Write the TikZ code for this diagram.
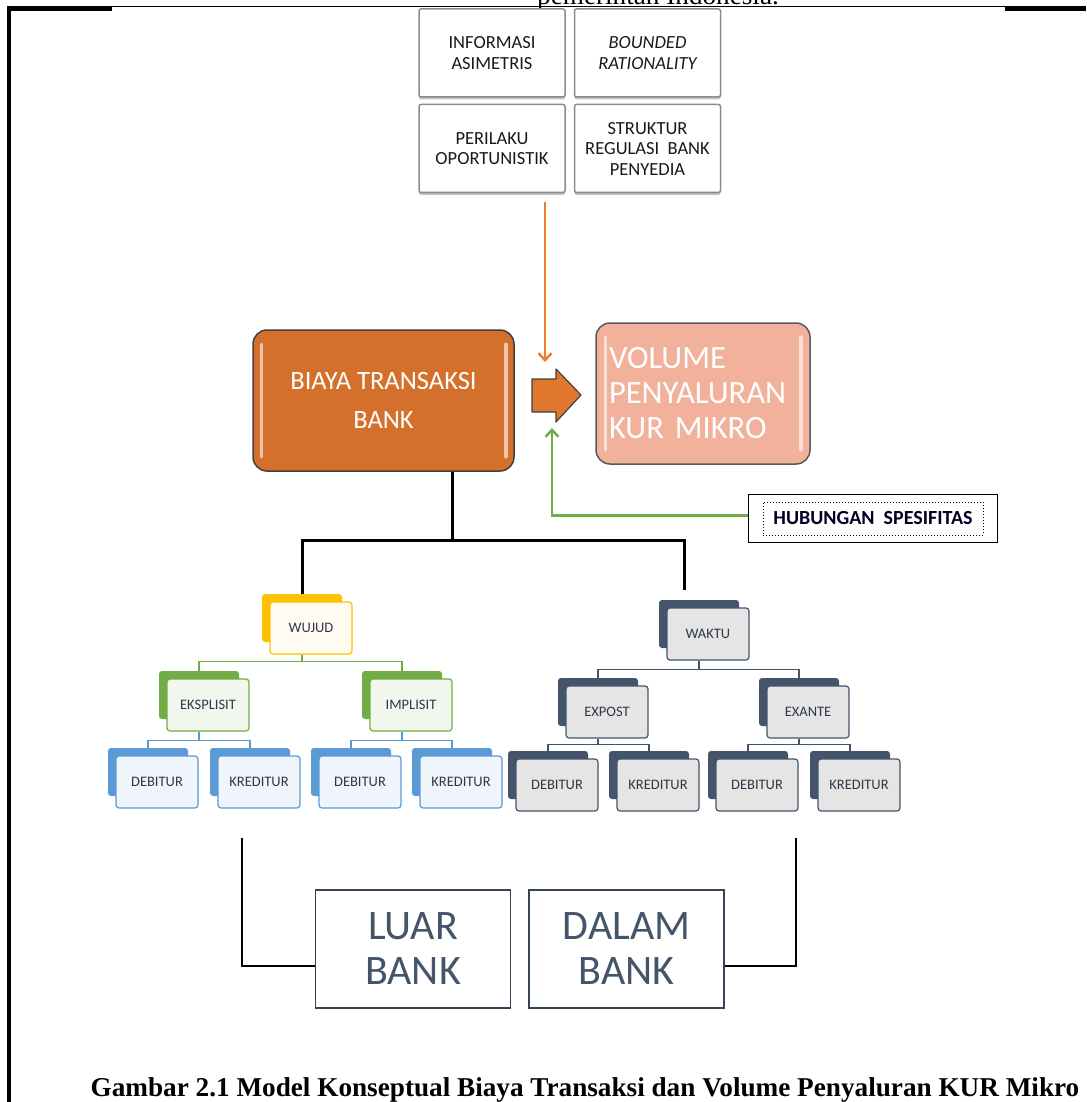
\documentclass[tikz,border=0pt]{standalone}
\usepackage{fontspec}
\setmainfont{Carlito}
\newfontfamily\capfont{Liberation Serif}
\usetikzlibrary{arrows.meta,shadows,fit}

\definecolor{orgbox}{HTML}{D5702C}
\definecolor{salmon}{HTML}{F2B19A}
\definecolor{orgline}{HTML}{ED7D31}
\definecolor{grnline}{HTML}{70AD47}
\definecolor{ywujud}{HTML}{FFC000}
\definecolor{blubox}{HTML}{5B9BD5}
\definecolor{slate}{HTML}{44546A}
\definecolor{grayline}{HTML}{8C8C8C}
\definecolor{boxtext}{HTML}{2E3848}

\tikzset{
  faktor/.style={draw=grayline, line width=1.5pt, fill=white, rounded corners=2pt,
    minimum width=146pt, minimum height=88pt, align=center, text=black!90,
    font=\fontsize{18.5}{20.5}\selectfont,
    drop shadow={shadow xshift=0pt, shadow yshift=-2.5pt, fill=black!45}},
  bigbox/.style={rounded corners=14pt, line width=1.5pt, minimum width=261pt,
    minimum height=141pt, text=white},
  gloss/.style={white, opacity=.6, line width=3.5pt, line cap=round},
  back/.style={rectangle, rounded corners=3pt, minimum width=80pt, minimum height=48pt},
  front/.style={rectangle, rounded corners=3pt, minimum width=82pt, minimum height=52pt,
    line width=1.2pt, text=boxtext, inner xsep=1pt, font=\fontsize{14.5}{16}\selectfont},
  wujudback/.style={back, fill=ywujud},
  wujudfront/.style={front, draw=ywujud, fill=ywujud!6},
  grnback/.style={back, fill=grnline},
  grnfront/.style={front, draw=grnline, fill=grnline!10},
  bluback/.style={back, fill=blubox},
  blufront/.style={front, draw=blubox, fill=blubox!10},
  slateback/.style={back, fill=slate},
  slatefront/.style={front, draw=slate, fill=black!10},
  branch/.style={line width=1.3pt},
  trunk/.style={line width=3pt, black},
  bankbox/.style={draw=slate!80!black, line width=1.2pt, minimum width=195pt,
    minimum height=118pt, align=center, text=slate,
    font=\fontsize{42}{45}\selectfont},
  arr/.style={line width=2.5pt, -{Straight Barb[length=7pt,width=13pt]}}
}

\begin{document}
\begin{tikzpicture}[x=1pt,y=-1pt]
  \useasboundingbox (0,0) rectangle (1086,1102);

  \node[anchor=base west, inner sep=0pt, font=\capfont\fontsize{27.2}{30}\selectfont] (ctx) at (537,4.5) {pemerintah Indonesia.};
  \draw[line width=1pt] (7,7) -- (1086,7);
  \draw[line width=4pt] (7,9) -- (112,9);
  \draw[line width=4pt] (1005,9) -- (1086,9);
  \draw[line width=4pt] (9,7) -- (9,1102);

  \node[faktor] (info) at (492,53) {INFORMASI\\ASIMETRIS};
  \node[faktor] (bound) at (647.5,53) {\itshape BOUNDED\\\itshape RATIONALITY};
  \node[faktor] (oport) at (492,148.5) {PERILAKU\\OPORTUNISTIK};
  \node[faktor] (regul) at (647.5,148.5) {STRUKTUR\\REGULASI~~BANK\\PENYEDIA};

  \node[bigbox, draw=black!75, fill=orgbox, align=center, font=\fontsize{26.5}{39}\selectfont] (biaya) at (383.5,400.5) {BIAYA TRANSAKSI\\BANK};
  \draw[gloss] ([xshift=9pt,yshift=-15pt]biaya.north west) -- ([xshift=9pt,yshift=15pt]biaya.south west);
  \draw[gloss] ([xshift=-9pt,yshift=-15pt]biaya.north east) -- ([xshift=-9pt,yshift=15pt]biaya.south east);

  \node[bigbox, draw=black!65, fill=salmon, minimum width=214pt, text width=188pt, align=left, font=\fontsize{32.5}{35}\selectfont] (volume) at (703,393.5) {VOLUME\\PENYALURAN\\KUR MIKRO};
  \draw[gloss] ([xshift=10pt,yshift=-15pt]volume.north west) -- ([xshift=10pt,yshift=15pt]volume.south west);
  \draw[gloss] ([xshift=-10pt,yshift=-15pt]volume.north east) -- ([xshift=-10pt,yshift=15pt]volume.south east);

  \filldraw[fill=orgline!95!black, draw=black!75, line width=1.2pt, line join=round]
    (532,379) -- (556,379) -- (556,369) -- (581,395) -- (556,422) -- (556,412) -- (532,412) -- cycle;

  \coordinate (otop) at (545,202);
  \coordinate (otip) at (545,362);
  \draw[arr, orgline] (otop) -- (otip);

  \node[draw, dotted, line width=1pt, minimum width=220pt, minimum height=33pt, inner xsep=2pt, text=black!85!blue, font=\bfseries\fontsize{20}{22}\selectfont] (hubtxt) at (873,518.5) {HUBUNGAN~~SPESIFITAS};
  \node[draw, line width=1.8pt, inner xsep=14pt, inner ysep=7pt, fit=(hubtxt)] (hub) {};
  \coordinate (gtip) at (552,428);
  \draw[arr, grnline] ([yshift=3pt]hub.west) -| (gtip);

  \node[wujudback] (wujud-b) at (302,618) {};
  \node[wujudfront] (wujud) at ([shift={(9pt,-10pt)}]wujud-b) {WUJUD};
  \node[grnback] (eks-b) at (199,695) {};
  \node[grnfront] (eks) at ([shift={(9pt,-10pt)}]eks-b) {EKSPLISIT};
  \node[grnback] (imp-b) at (402,695) {};
  \node[grnfront] (imp) at ([shift={(9pt,-10pt)}]imp-b) {IMPLISIT};
  \foreach \nm/\x/\t in {eksd/148/DEBITUR, eksk/250/KREDITUR, impd/351/DEBITUR, impk/452/KREDITUR} {
    \node[bluback] (\nm-b) at (\x,772) {};
    \node[blufront] (\nm) at ([shift={(9pt,-10pt)}]\nm-b) {\t};
  }

  \node[slateback] (waktu-b) at (699,624) {};
  \node[slatefront] (waktu) at ([shift={(9pt,-10pt)}]waktu-b) {WAKTU};
  \node[slateback] (post-b) at (598,702) {};
  \node[slatefront] (post) at ([shift={(9pt,-10pt)}]post-b) {EXPOST};
  \node[slateback] (ante-b) at (799,702) {};
  \node[slatefront] (ante) at ([shift={(9pt,-10pt)}]ante-b) {EXANTE};
  \foreach \nm/\x/\t in {postd/548/DEBITUR, postk/649/KREDITUR, anted/748/DEBITUR, antek/850/KREDITUR} {
    \node[slateback] (\nm-b) at (\x,775) {};
    \node[slatefront] (\nm) at ([shift={(9pt,-10pt)}]\nm-b) {\t};
  }

  \draw[branch, grnline] (wujud-b |- wujud.south) -- ++(0,7) -| (eks-b.north);
  \draw[branch, grnline] (wujud-b |- wujud.south) -- ++(0,7) -| (imp-b.north);
  \draw[branch, blubox] (eks-b |- eks.south) -- ++(0,9) -| (eksd-b.north);
  \draw[branch, blubox] (eks-b |- eks.south) -- ++(0,9) -| (eksk-b.north);
  \draw[branch, blubox] (imp-b |- imp.south) -- ++(0,9) -| (impd-b.north);
  \draw[branch, blubox] (imp-b |- imp.south) -- ++(0,9) -| (impk-b.north);
  \draw[branch, slate] (waktu-b |- waktu.south) -- ++(0,9) -| (post-b.north);
  \draw[branch, slate] (waktu-b |- waktu.south) -- ++(0,9) -| (ante-b.north);
  \draw[branch, slate] (post-b |- post.south) -- ++(0,6) -| (postd-b.north);
  \draw[branch, slate] (post-b |- post.south) -- ++(0,6) -| (postk-b.north);
  \draw[branch, slate] (ante-b |- ante.south) -- ++(0,6) -| (anted-b.north);
  \draw[branch, slate] (ante-b |- ante.south) -- ++(0,6) -| (antek-b.north);

  \coordinate (jn) at (452,540);
  \draw[trunk] (biaya.south -| jn) -- (jn);
  \draw[trunk] (jn) -| (wujud-b.north);
  \draw[trunk] (jn) -| ([xshift=-15pt,yshift=10pt]waktu-b.north);

  \node[bankbox] (luar) at (413,949) {LUAR\\BANK};
  \node[bankbox] (dalam) at (626.5,949) {DALAM\\BANK};
  \coordinate (ltop) at (242,838);
  \coordinate (rtop) at (796,838);
  \draw[line width=1.5pt] (ltop) |- ([yshift=-17pt]luar.west);
  \draw[line width=1.5pt] (rtop) |- ([yshift=-17pt]dalam.east);

  \node[anchor=base, inner sep=0pt, font=\capfont\bfseries\fontsize{27.2}{30}\selectfont] (caption) at (585,1096) {Gambar 2.1 Model Konseptual Biaya Transaksi dan Volume Penyaluran KUR Mikro};
\end{tikzpicture}
\end{document}
